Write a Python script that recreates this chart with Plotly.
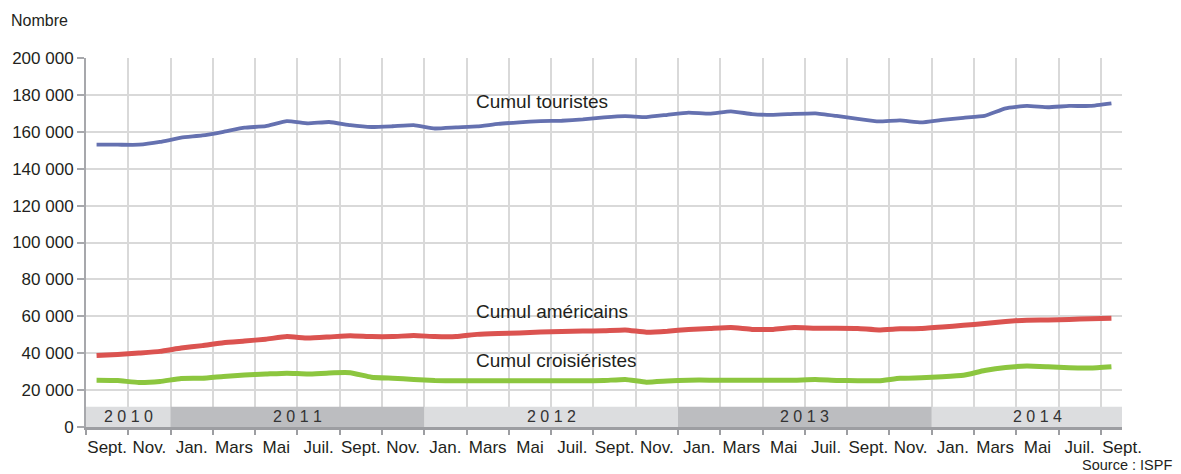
import plotly.graph_objects as go

# Months: Sept. 2010 (index 0) .. Sept. 2014 (index 48)
touristes = [153000, 153000, 153000, 154500, 156800, 158000, 160000, 162200, 163100, 165800,
             164600, 165300, 163600, 162600, 163000, 163600, 161800, 162400, 162900, 164300,
             165100, 165800, 166000, 166700, 167800, 168500, 168000, 169200, 170400, 169800,
             171100, 169600, 169200, 169700, 170000, 168600, 167000, 165600, 166200, 165100,
             166500, 167600, 168600, 172700, 174000, 173300, 174000, 174000, 175400]
americains = [38700, 39300, 40100, 41000, 42800, 44100, 45700, 46600, 47600, 49000,
              48200, 48800, 49500, 49000, 49000, 49600, 49000, 49000, 50200, 50700,
              51000, 51500, 51800, 52000, 52200, 52600, 51400, 51900, 52900, 53400,
              53900, 52900, 52900, 53900, 53500, 53500, 53400, 52600, 53200, 53400,
              54200, 55100, 56100, 57200, 57900, 58000, 58300, 58700, 59000]
croisieristes = [25400, 25200, 24100, 24700, 26300, 26400, 27400, 28200, 28700, 29200,
                 28700, 29300, 29400, 27000, 26400, 25800, 25200, 25100, 25100, 25100,
                 25100, 25100, 25100, 25100, 25200, 25800, 24300, 24900, 25400, 25400,
                 25400, 25400, 25400, 25400, 25700, 25200, 25100, 25100, 26400, 26700,
                 27200, 28000, 30600, 32300, 33000, 32600, 32100, 32000, 32700]

month_labels = ["Sept.", "Nov.", "Jan.", "Mars", "Mai", "Juil."] * 4 + ["Sept."]
years = ["2 0 1 0", "2 0 1 1", "2 0 1 2", "2 0 1 3", "2 0 1 4"]
year_start = [0, 4, 16, 28, 40]
year_end = [4, 16, 28, 40, 50]
year_colors = ["#dcdddf", "#bcbdc0", "#dcdddf", "#bcbdc0", "#dcdddf"]

y_ticks = list(range(0, 200001, 20000))
y_ticktext = [f"{v:,}".replace(",", " ") for v in y_ticks]

n = len(touristes)
xs = [i + 0.5 for i in range(n)]
X_MAX = 49
BAND_TOP = 11000

FONT = "Liberation Sans, Arial, Helvetica, sans-serif"
TXT = "#231f20"

# page body has an 8px margin: figure is sized to fill the rest of the window
W, H = 1173, 466

fig = go.Figure()
series = [
    (touristes, "#6571b0", 3.8, "Cumul touristes"),
    (americains, "#db5350", 5, "Cumul américains"),
    (croisieristes, "#8cc63f", 5, "Cumul croisiéristes"),
]
for vals, col, w, name in series:
    fig.add_trace(go.Scatter(x=xs, y=vals, mode="lines", name=name,
                             line=dict(color=col, width=w, shape="spline", smoothing=0.4),
                             hoverinfo="skip"))

shapes = []
annotations = []
for lab, s, e, c in zip(years, year_start, year_end, year_colors):
    shapes.append(dict(type="rect", xref="x", yref="y", x0=s, x1=min(e, X_MAX), y0=0, y1=BAND_TOP,
                       fillcolor=c, line=dict(width=0), layer="between"))
    annotations.append(dict(x=(s + e) / 2, y=BAND_TOP / 2, xref="x", yref="y", text=lab,
                            showarrow=False, font=dict(size=16, color="#333333", family=FONT)))

# series labels
annotations += [
    dict(x=18.35, y=176500, xref="x", yref="y", text="Cumul touristes", xanchor="left",
         yanchor="middle", showarrow=False, font=dict(size=19, color=TXT, family=FONT)),
    dict(x=18.35, y=62400, xref="x", yref="y", text="Cumul américains", xanchor="left",
         yanchor="middle", showarrow=False, font=dict(size=19, color=TXT, family=FONT)),
    dict(x=18.35, y=36300, xref="x", yref="y", text="Cumul croisiéristes", xanchor="left",
         yanchor="middle", showarrow=False, font=dict(size=19, color=TXT, family=FONT)),
    dict(x=1.05, y=-0.102, xref="paper", yref="paper", text="Source : ISPF", xanchor="right",
         yanchor="middle", showarrow=False, font=dict(size=14.5, color=TXT, family=FONT)),
]

label_vals = [2 * k + 1 for k in range(len(month_labels))]

fig.update_layout(
    width=W, height=H,
    margin=dict(l=78, r=59, t=50, b=47, autoexpand=False),
    paper_bgcolor="white", plot_bgcolor="white",
    showlegend=False,
    title=dict(text="Nombre", x=3 / W, xanchor="left", y=1 - 12 / H, yanchor="middle",
               xref="container", yref="container", font=dict(size=16, color=TXT, family=FONT)),
    font=dict(family=FONT, color=TXT, size=17),
    shapes=shapes,
    annotations=annotations,
    xaxis=dict(range=[0, X_MAX], tickvals=label_vals, ticktext=month_labels,
               ticks="", showgrid=False, zeroline=False, automargin=False,
               showline=True, linecolor="#9d9ea2", linewidth=3,
               ticklabelstandoff=3,
               tickfont=dict(size=17, color=TXT, family=FONT),
               minor=dict(tickvals=list(range(0, 49, 2)), showgrid=True, gridcolor="#d9d9d9",
                          gridwidth=1.5, ticks="outside", ticklen=5, tickcolor="#9d9ea2",
                          tickwidth=1.5)),
    yaxis=dict(range=[0, 200000], tickvals=y_ticks, ticktext=y_ticktext,
               showgrid=True, gridcolor="#d9d9d9", gridwidth=1.5, zeroline=False,
               automargin=False,
               showline=True, linecolor="#a7a8ac", linewidth=2,
               ticks="outside", ticklen=7, tickcolor="#a7a8ac", tickwidth=1.5,
               tickfont=dict(size=17, color=TXT, family=FONT)),
)

fig.write_html("out.html")
